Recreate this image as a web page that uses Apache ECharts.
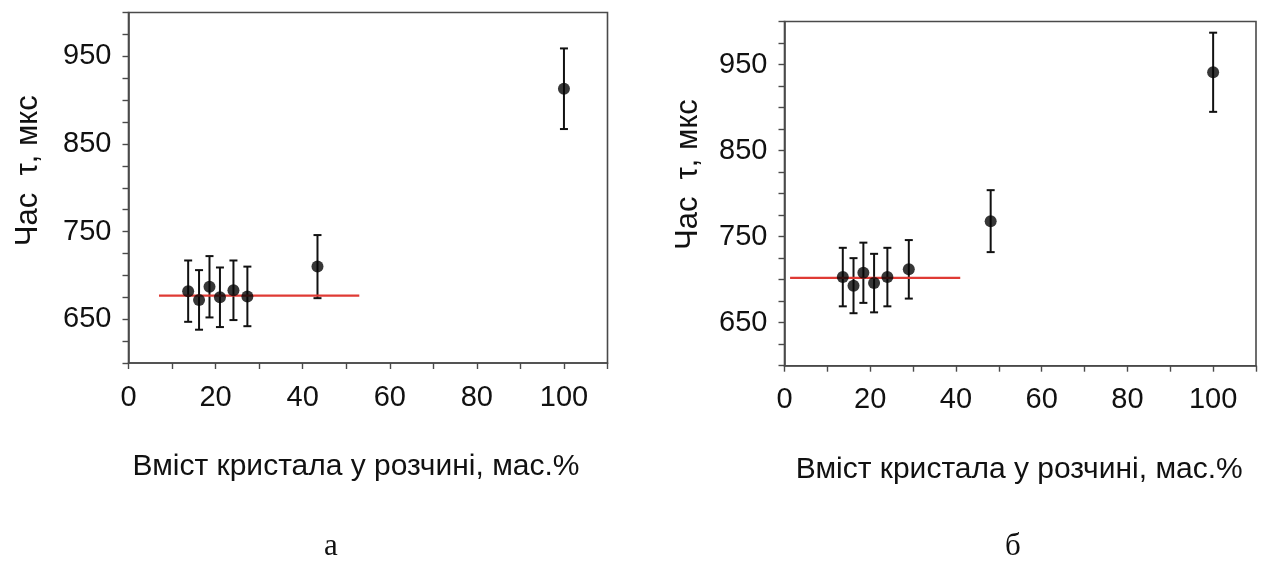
<!DOCTYPE html>
<html>
<head>
<meta charset="utf-8">
<script src="https://cdn.jsdelivr.net/npm/echarts@6/dist/echarts.min.js"></script>
<style>
html,body{margin:0;padding:0;background:#fff;}
#c{width:1275px;height:562px;}
</style>
</head>
<body>
<div id="c"></div>
<script>
// ---- data ----
const leftX   = [13.7, 16.2, 18.6, 21.0, 24.1, 27.3, 43.4, 100];
const leftY   = [682, 672, 687, 675, 683, 676, 710, 913];
const leftErr = [35, 34, 35, 34, 34, 34, 36, 46];
const leftFitX = [7, 53];
const leftFitY = [677, 677];

const rightX   = [13.6, 16.1, 18.4, 20.9, 24.0, 29.0, 48.1, 100];
const rightY   = [703, 693, 708, 696, 703, 712, 768, 941];
const rightErr = [34, 32, 35, 34, 34, 34, 36, 46];
const rightFitX = [1.3, 41];
const rightFitY = [702, 702];

const yLabelValues = [650, 750, 850, 950];
const xLabelValues = [0, 20, 40, 60, 80, 100];
const xTitle = 'Вміст кристала у розчині, мас.%';
const yTitle = 'Час  τ, мкс';
const panelLabels = ['а', 'б'];

// ---- chart ----
const chart = echarts.init(document.getElementById('c'));
const FONT = '"Liberation Sans", Arial, sans-serif';
const AX = '#4a4a4a';

function zip3(a, b, c) { return a.map((v, i) => [v, b[i], c[i]]); }
function zip2(a, b) { return a.map((v, i) => [v, b[i]]); }

function errRender(params, api) {
  const x = api.value(0), y = api.value(1), e = api.value(2);
  const t = api.coord([x, y + e]);
  const b = api.coord([x, y - e]);
  const cw = 4;
  const st = { stroke: '#111', lineWidth: 2 };
  return {
    type: 'group',
    children: [
      { type: 'line', shape: { x1: t[0], y1: t[1], x2: b[0], y2: b[1] }, style: st },
      { type: 'line', shape: { x1: t[0] - cw, y1: t[1], x2: t[0] + cw, y2: t[1] }, style: st },
      { type: 'line', shape: { x1: b[0] - cw, y1: b[1], x2: b[0] + cw, y2: b[1] }, style: st }
    ]
  };
}

function xAxisCfg(idx, namePad) {
  return {
    type: 'value', gridIndex: idx, min: 0, max: 110, interval: 20,
    axisLine: { show: true, onZero: false, lineStyle: { color: AX, width: 1.6 } },
    axisTick: { show: true, inside: false, length: 6, lineStyle: { color: AX, width: 1.4 } },
    minorTick: { show: true, splitNumber: 2, length: 6, lineStyle: { color: AX, width: 1.4 } },
    splitLine: { show: false },
    axisLabel: {
      margin: 20, color: '#111', fontFamily: FONT, fontSize: 29,
      formatter: v => xLabelValues.indexOf(v) >= 0 ? String(v) : ''
    },
    name: xTitle, nameLocation: 'middle', nameGap: 89,
    nameTextStyle: { color: '#111', fontFamily: FONT, fontSize: 30, padding: namePad }
  };
}

function yAxisCfg(idx, gap, namePad) {
  return {
    type: 'value', gridIndex: idx, min: 600, max: 1000, interval: 50,
    axisLine: { show: true, onZero: false, lineStyle: { color: AX, width: 1.6 } },
    axisTick: { show: true, inside: false, length: 6, lineStyle: { color: AX, width: 1.4 } },
    minorTick: { show: true, splitNumber: 2, length: 6, lineStyle: { color: AX, width: 1.4 } },
    splitLine: { show: false },
    axisLabel: {
      margin: 17, color: '#111', fontFamily: FONT, fontSize: 29,
      formatter: v => yLabelValues.indexOf(v) >= 0 ? String(v) : ''
    },
    name: yTitle, nameLocation: 'middle', nameGap: gap, nameRotate: 90,
    nameTextStyle: { color: '#111', fontFamily: FONT, fontSize: 31, padding: namePad }
  };
}

function panelSeries(idx, xs, ys, es, fx, fy) {
  return [
    {
      type: 'custom', xAxisIndex: idx, yAxisIndex: idx,
      renderItem: errRender, data: zip3(xs, ys, es), z: 2, silent: true
    },
    {
      type: 'line', xAxisIndex: idx, yAxisIndex: idx, data: zip2(fx, fy),
      showSymbol: false, symbol: 'none',
      lineStyle: { color: '#df3a34', width: 2.2 }, z: 3, silent: true
    },
    {
      type: 'scatter', xAxisIndex: idx, yAxisIndex: idx, data: zip2(xs, ys),
      symbol: 'circle', symbolSize: 12, itemStyle: { color: '#050505' }, z: 4, silent: true
    }
  ];
}

chart.setOption({
  animation: false,
  backgroundColor: '#fff',
  grid: [
    { left: 128.5, top: 12.5, width: 479, height: 350.5, show: true, borderColor: AX, borderWidth: 1.6 },
    { left: 784.5, top: 21.5, width: 471.5, height: 344.2, show: true, borderColor: AX, borderWidth: 1.6 }
  ],
  xAxis: [xAxisCfg(0, [0, 24, 0, 0]), xAxisCfg(1, [0, 2, 0, 0])],
  yAxis: [yAxisCfg(0, 85, [0, 0, 0, 34]), yAxisCfg(1, 81, [0, 0, 0, 38])],
  series: [
    ...panelSeries(0, leftX, leftY, leftErr, leftFitX, leftFitY),
    ...panelSeries(1, rightX, rightY, rightErr, rightFitX, rightFitY)
  ],
  graphic: [
    { type: 'text', left: 324, top: 531, style: { text: panelLabels[0], font: '31px "Liberation Serif", "Times New Roman", serif', fill: '#111' } },
    { type: 'text', left: 1005, top: 531, style: { text: panelLabels[1], font: '31px "Liberation Serif", "Times New Roman", serif', fill: '#111' } }
  ]
});
</script>
</body>
</html>
